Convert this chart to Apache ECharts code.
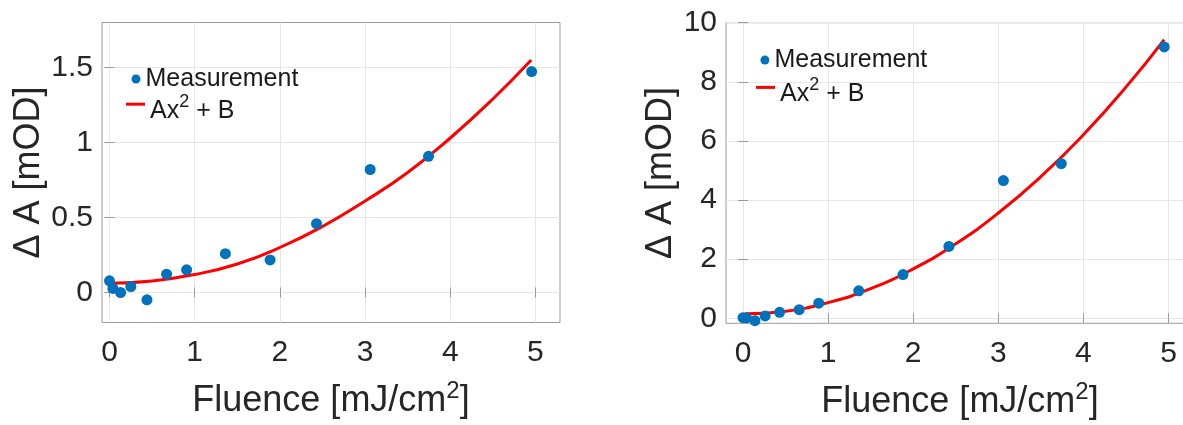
<!DOCTYPE html>
<html>
<head>
<meta charset="utf-8">
<script src="https://cdn.jsdelivr.net/npm/echarts@6/dist/echarts.min.js"></script>
<style>
html,body{margin:0;padding:0;background:#fff;}
#chart{width:1183px;height:425px;}
</style>
</head>
<body>
<div id="chart"></div>
<script>
// ---- Data ----
const leftFluence  = [0, 0.04, 0.13, 0.25, 0.44, 0.67, 0.905, 1.36, 1.885, 2.43, 3.06, 3.745, 4.955];
const leftDeltaA   = [0.078, 0.027, 0.0, 0.04, -0.049, 0.122, 0.151, 0.259, 0.217, 0.459, 0.82, 0.908, 1.473];
const rightFluence = [0, 0.04, 0.14, 0.26, 0.43, 0.66, 0.89, 1.36, 1.88, 2.42, 3.06, 3.74, 4.95];
const rightDeltaA  = [0.02, 0.01, -0.08, 0.08, 0.2, 0.29, 0.51, 0.93, 1.48, 2.43, 4.66, 5.23, 9.18];
const fitFluence   = [0.02, 0.5, 1, 1.5, 2, 2.5, 3, 3.5, 4, 4.5, 4.95];
const leftFit      = [0.062, 0.077, 0.12, 0.19, 0.30, 0.44, 0.61, 0.80, 1.03, 1.29, 1.55];
const rightFit     = [0.15, 0.24, 0.53, 1.00, 1.67, 2.52, 3.56, 4.79, 6.21, 7.82, 9.43];
const xTicks       = [0, 1, 2, 3, 4, 5];
const leftYTicks   = [0, 0.5, 1, 1.5];
const rightYTicks  = [0, 2, 4, 6, 8, 10];
const measName = 'Measurement';
const fitName  = 'Ax^2 + B';

const zip = (a, b) => a.map((v, i) => [v, b[i]]);

const FONT = 'Liberation Sans, Arial, sans-serif';
const TXT = '#262626';
const BOX = '#9a9a9a';
const GRIDC = '#e6e6e6';

function xAxisMain(gi, min, max) {
  return {
    type: 'value', gridIndex: gi, min: min, max: max,
    name: '{b|Fluence [mJ/cm}{s|2}{b|]}',
    nameLocation: 'middle', nameGap: 53,
    nameTextStyle: { color: TXT, fontFamily: FONT,
      rich: { b: { fontSize: 36, fontFamily: FONT, color: TXT, padding: [8, 0, 0, 0] },
              s: { fontSize: 24, fontFamily: FONT, color: TXT, padding: [0, 0, 12, 0] } } },
    axisLine: { show: false },
    axisTick: { show: true, inside: true, length: 5, customValues: xTicks, lineStyle: { color: BOX } },
    axisLabel: { customValues: xTicks, fontSize: 30, fontFamily: FONT, color: TXT, margin: 15 },
    splitLine: { show: true, lineStyle: { color: GRIDC, width: 1 } }
  };
}
function xAxisTop(gi, min, max) {
  return {
    type: 'value', gridIndex: gi, min: min, max: max, position: 'top',
    axisLine: { show: false },
    axisTick: { show: true, inside: true, length: 5, customValues: xTicks, lineStyle: { color: BOX } },
    axisLabel: { show: false }, splitLine: { show: false }
  };
}
function yAxisMain(gi, min, max, ticks, gap) {
  return {
    type: 'value', gridIndex: gi, min: min, max: max,
    name: '\u0394 A [mOD]', nameLocation: 'middle', nameGap: gap, nameRotate: 90,
    nameTextStyle: { fontSize: 36, fontFamily: FONT, color: TXT },
    axisLine: { show: false },
    axisTick: { show: true, inside: true, length: 5, customValues: ticks, lineStyle: { color: BOX } },
    axisLabel: { customValues: ticks, fontSize: 30, fontFamily: FONT, color: TXT, margin: 9 },
    splitLine: { show: true, lineStyle: { color: GRIDC, width: 1 } }
  };
}
function yAxisRight(gi, min, max, ticks) {
  return {
    type: 'value', gridIndex: gi, min: min, max: max, position: 'right',
    axisLine: { show: false },
    axisTick: { show: true, inside: true, length: 5, customValues: ticks, lineStyle: { color: BOX } },
    axisLabel: { show: false }, splitLine: { show: false }
  };
}
function measLegend(left, top) {
  return {
    data: [measName], left: left, top: top, padding: 0, orient: 'vertical',
    icon: 'circle', itemWidth: 9, itemHeight: 9, selectedMode: false,
    textStyle: { fontSize: 25, fontFamily: FONT, color: '#1a1a1a' }
  };
}
function fitLegend(left, top) {
  return {
    data: [fitName], left: left, top: top, padding: 0, orient: 'vertical',
    icon: 'rect', itemWidth: 19, itemHeight: 3, selectedMode: false,
    formatter: () => '{b|Ax}{s|2}{b| + B}',
    textStyle: { fontSize: 25, fontFamily: FONT, color: '#1a1a1a',
      rich: { b: { fontSize: 25, fontFamily: FONT, color: '#1a1a1a', padding: [14, 0, 0, 0] },
              s: { fontSize: 18, fontFamily: FONT, color: '#1a1a1a', padding: [0, 0, 4, 0] } } }
  };
}

const option = {
  animation: false,
  backgroundColor: '#ffffff',
  grid: [
    { left: 102, top: 22.5, width: 458, height: 300, show: true, borderColor: BOX, borderWidth: 1, outerBoundsMode: 'none', containLabel: false },
    { left: 726, top: 22.7, width: 468, height: 300.6, show: true, borderColor: BOX, borderWidth: 1, outerBoundsMode: 'none', containLabel: false }
  ],
  xAxis: [
    xAxisMain(0, -0.088, 5.288),
    xAxisMain(1, -0.2, 5.3),
    xAxisTop(0, -0.088, 5.288),
    xAxisTop(1, -0.2, 5.3)
  ],
  yAxis: [
    yAxisMain(0, -0.2, 1.8, leftYTicks, 55),
    yAxisMain(1, -0.17, 10, rightYTicks, 47),
    yAxisRight(0, -0.2, 1.8, leftYTicks),
    yAxisRight(1, -0.17, 10, rightYTicks)
  ],
  legend: [
    measLegend(131.5, 66.5),
    fitLegend(126, 93.2),
    measLegend(760.4, 47.6),
    fitLegend(756, 76.4)
  ],
  series: [
    { type: 'line', name: fitName, xAxisIndex: 0, yAxisIndex: 0, data: zip(fitFluence, leftFit),
      smooth: true, showSymbol: false, color: '#FF0000', lineStyle: { color: '#FF0000', width: 3 }, z: 2 },
    { type: 'scatter', name: measName, xAxisIndex: 0, yAxisIndex: 0, data: zip(leftFluence, leftDeltaA),
      symbolSize: 11, itemStyle: { color: '#0072BD', opacity: 1 }, z: 3 },
    { type: 'line', name: fitName, xAxisIndex: 1, yAxisIndex: 1, data: zip(fitFluence, rightFit),
      smooth: true, showSymbol: false, color: '#FF0000', lineStyle: { color: '#FF0000', width: 3 }, z: 2 },
    { type: 'scatter', name: measName, xAxisIndex: 1, yAxisIndex: 1, data: zip(rightFluence, rightDeltaA),
      symbolSize: 11, itemStyle: { color: '#0072BD', opacity: 1 }, z: 3 }
  ]
};

const chart = echarts.init(document.getElementById('chart'), null, { renderer: 'canvas' });
chart.setOption(option);
</script>
</body>
</html>
